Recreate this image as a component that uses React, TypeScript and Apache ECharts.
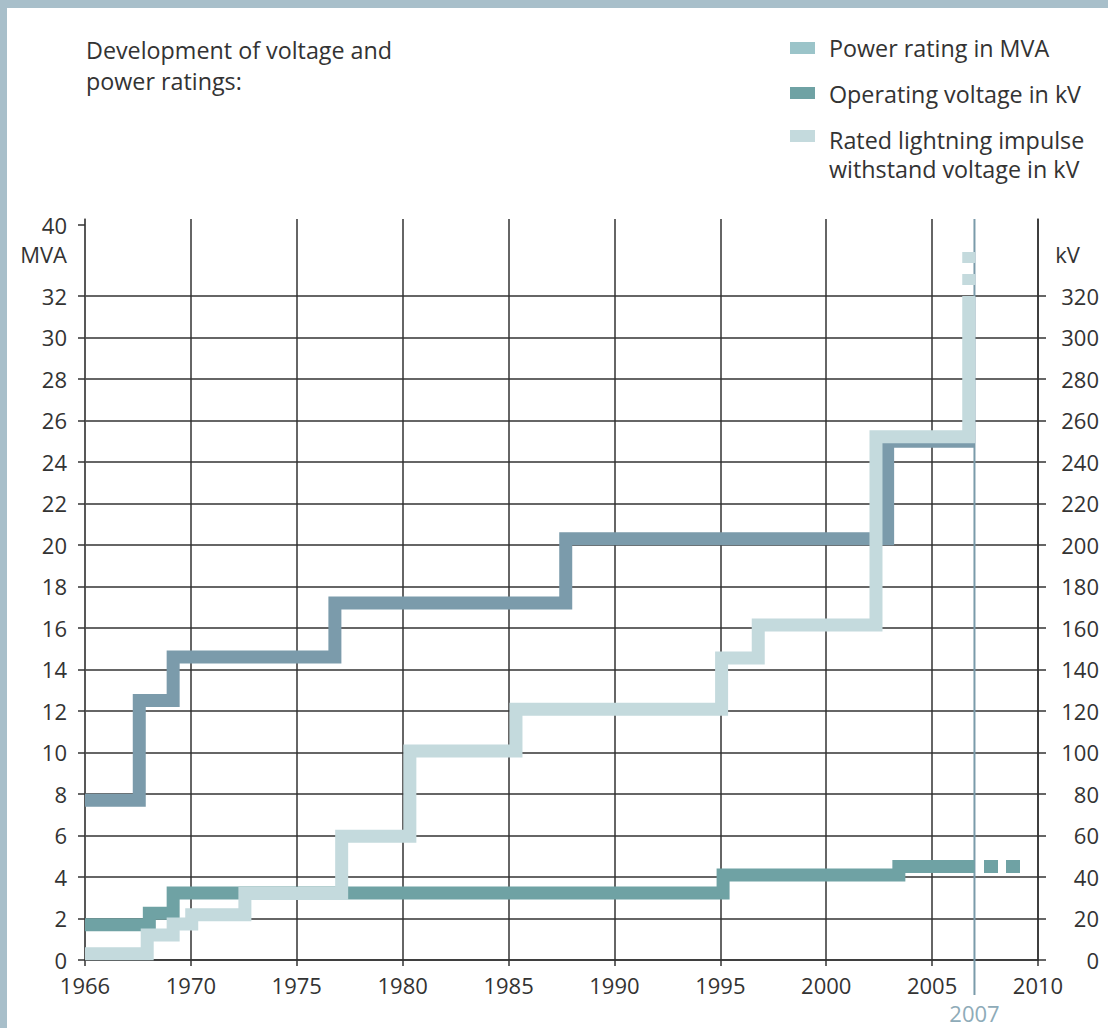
import React, { useEffect, useRef } from "react";
import * as echarts from "echarts";

const FONT = '"Open Sans", "Noto Sans", sans-serif';
const TEXT = "#333333";

// Step lines: year where each level begins, and the level
const powerYears = [1966, 1968.05, 1969.33, 1976.8, 1987.7, 2002.9, 2007.0];
const powerMVA = [7.7, 12.5, 14.6, 17.2, 20.3, 25.0, 25.0];

const opYears = [1966, 1968.43, 1969.33, 1995.13, 2003.43, 2007.0];
const opKV = [17, 22.5, 32.3, 41, 45, 45];
const opDashYears = [2007.45, 2009.15];
const opDashKV = [45, 45];

const lightYears = [1966, 1968.35, 1969.33, 1970.04, 1972.55, 1977.12, 1980.34, 1985.35, 1995.06, 1996.79, 2002.35, 2006.73];
const lightKV = [3, 12, 17.4, 21.8, 32.1, 59.6, 100.7, 120.8, 145.5, 161.4, 252.2, 320];
const lightDashYears = [2006.73, 2006.73];
const lightDashKV = [325.3, 341.2];

const markYear = 2007;

// Axis ticks
const xTicksStart = 1965; // drawn position of the "1966" tick (first span is compressed)
const leftTicks = [0, 2, 4, 6, 8, 10, 12, 14, 16, 18, 20, 22, 24, 26, 28, 30, 32];
const rightTicks = [0, 20, 40, 60, 80, 100, 120, 140, 160, 180, 200, 220, 240, 260, 280, 300, 320];
const topTickMVA = 35.42; // labelled "40"
const unitLevelMVA = 34;
const axisMaxMVA = 35.71;

// 1966-1970 span is drawn 5 "units" wide for 4 years
const pos = (y: number) => (y < 1970 ? xTicksStart + (y - 1966) * 1.25 : y);
const pts = (xs: number[], ys: number[]) => xs.map((x, i) => [pos(x), ys[i]]);

const COL_POWER = "#7b9bab";
const COL_OP = "#6fa2a4";
const COL_LIGHT = "#c4dadd";
const LEG_POWER = "#9bc4c9";
const GRID = "#333333";

export default function App() {
  const ref = useRef<HTMLDivElement>(null);
  useEffect(() => {
    if (!ref.current) return;
    const chart = echarts.init(ref.current, null, { renderer: "svg" });
    const lbl = { fontFamily: FONT, fontSize: 22, color: TEXT };
    const big = { fontFamily: FONT, fontSize: 23.3, fill: TEXT, verticalAlign: "middle" };
    const stepLine = (color: string) => ({ color, width: 13, cap: "butt", join: "miter", miterLimit: 10 });
    chart.setOption({
      animation: false,
      backgroundColor: "#ffffff",
      grid: [
        { left: 85, right: 70, top: 219, bottom: 68 },
        { left: 85, right: 70, top: 296, bottom: 68 },
        { left: 85, right: 70, top: 219, bottom: 33 },
      ],
      xAxis: [
        {
          type: "value", gridIndex: 0, min: 1965, max: 2010, interval: 5,
          axisLine: { show: true, lineStyle: { color: GRID, width: 1.5 } },
          axisTick: { show: true, length: 6, lineStyle: { color: GRID, width: 1.5 } },
          axisLabel: { ...lbl, margin: 14, formatter: (v: number) => (v === xTicksStart ? "1966" : String(v)) },
          splitLine: { show: true, lineStyle: { color: GRID, width: 1.5 } },
        },
        { type: "value", gridIndex: 1, min: 1965, max: 2010, show: false },
        {
          type: "value", gridIndex: 2, min: 1965, max: 2010,
          axisLine: { show: false }, axisTick: { show: false }, splitLine: { show: false },
          axisLabel: { ...lbl, color: "#8eabb8", margin: 7, customValues: [markYear], formatter: (v: number) => String(v) },
        },
      ],
      yAxis: [
        {
          type: "value", gridIndex: 0, position: "left", min: 0, max: axisMaxMVA,
          axisLine: { show: true, lineStyle: { color: "#555555", width: 1.5 } },
          axisTick: { show: true, length: 7, customValues: [...leftTicks, topTickMVA], lineStyle: { color: GRID, width: 1.5 } },
          axisLabel: {
            ...lbl, margin: 18, customValues: [...leftTicks, unitLevelMVA, topTickMVA],
            formatter: (v: number) => (v > 35 ? "40" : v === unitLevelMVA ? "MVA" : String(v)),
          },
          splitLine: { show: false },
        },
        {
          type: "value", gridIndex: 0, position: "right", min: 0, max: axisMaxMVA * 10,
          axisLine: { show: true, lineStyle: { color: GRID, width: 1.5 } },
          axisTick: { show: true, length: 8, customValues: rightTicks, lineStyle: { color: GRID, width: 1.5 } },
          axisLabel: {
            ...lbl, margin: 61, align: "right", customValues: [...rightTicks, unitLevelMVA * 10],
            formatter: (v: number) => (v === unitLevelMVA * 10 ? "{k|kV}" : String(v)),
            rich: { k: { ...lbl, padding: [0, 19, 0, 0] } },
          },
          splitLine: { show: false },
        },
        {
          type: "value", gridIndex: 1, min: 0, max: 32, interval: 2,
          axisLine: { show: false }, axisTick: { show: false }, axisLabel: { show: false },
          splitLine: { show: true, lineStyle: { color: GRID, width: 1.5 } },
        },
        { type: "value", gridIndex: 2, min: 0, max: 1, show: false },
      ],
      series: [
        {
          type: "line", name: "2007", xAxisIndex: 2, yAxisIndex: 3, symbol: "none",
          data: [[markYear, 0], [markYear, 1]],
          lineStyle: { color: "#7a9baa", width: 2 },
        },
        {
          type: "line", name: "Operating voltage in kV", xAxisIndex: 0, yAxisIndex: 1, step: "end", symbol: "none",
          data: pts(opYears, opKV), lineStyle: stepLine(COL_OP),
        },
        {
          type: "line", name: "Operating voltage (dots)", xAxisIndex: 0, yAxisIndex: 1, symbol: "none",
          data: pts(opDashYears, opDashKV), lineStyle: { ...stepLine(COL_OP), type: [14, 8] },
        },
        {
          type: "line", name: "Power rating in MVA", xAxisIndex: 0, yAxisIndex: 0, step: "end", symbol: "none",
          data: pts(powerYears, powerMVA), lineStyle: stepLine(COL_POWER),
        },
        {
          type: "line", name: "Rated lightning impulse withstand voltage in kV", xAxisIndex: 0, yAxisIndex: 1, step: "end", symbol: "none",
          data: pts(lightYears, lightKV), lineStyle: stepLine(COL_LIGHT),
        },
        {
          type: "line", name: "Rated lightning impulse (dots)", xAxisIndex: 0, yAxisIndex: 1, symbol: "none",
          data: pts(lightDashYears, lightDashKV), lineStyle: { ...stepLine(COL_LIGHT), type: [11, 11] },
        },
      ],
      graphic: [
        { type: "rect", shape: { x: 0, y: 0, width: 1108, height: 8 }, style: { fill: "#a8bfca" } },
        { type: "rect", shape: { x: 0, y: 0, width: 7, height: 1028 }, style: { fill: "#a8bfca" } },
        { type: "text", x: 86, y: 50, style: { text: "Development of voltage and", ...big } },
        { type: "text", x: 86, y: 81, style: { text: "power ratings:", ...big } },
        { type: "rect", shape: { x: 790, y: 42, width: 25, height: 12 }, style: { fill: LEG_POWER } },
        { type: "text", x: 829, y: 48, style: { text: "Power rating in MVA", ...big } },
        { type: "rect", shape: { x: 790, y: 87, width: 25, height: 12 }, style: { fill: COL_OP } },
        { type: "text", x: 829, y: 93.5, style: { text: "Operating voltage in kV", ...big } },
        { type: "rect", shape: { x: 790, y: 130, width: 25, height: 12 }, style: { fill: COL_LIGHT } },
        { type: "text", x: 829, y: 139.5, style: { text: "Rated lightning impulse", ...big } },
        { type: "text", x: 829, y: 169, style: { text: "withstand voltage in kV", ...big } },
      ],
    });
    return () => chart.dispose();
  }, []);
  return <div ref={ref} style={{ position: "absolute", left: 0, top: 0, width: 1108, height: 1028 }} />;
}
